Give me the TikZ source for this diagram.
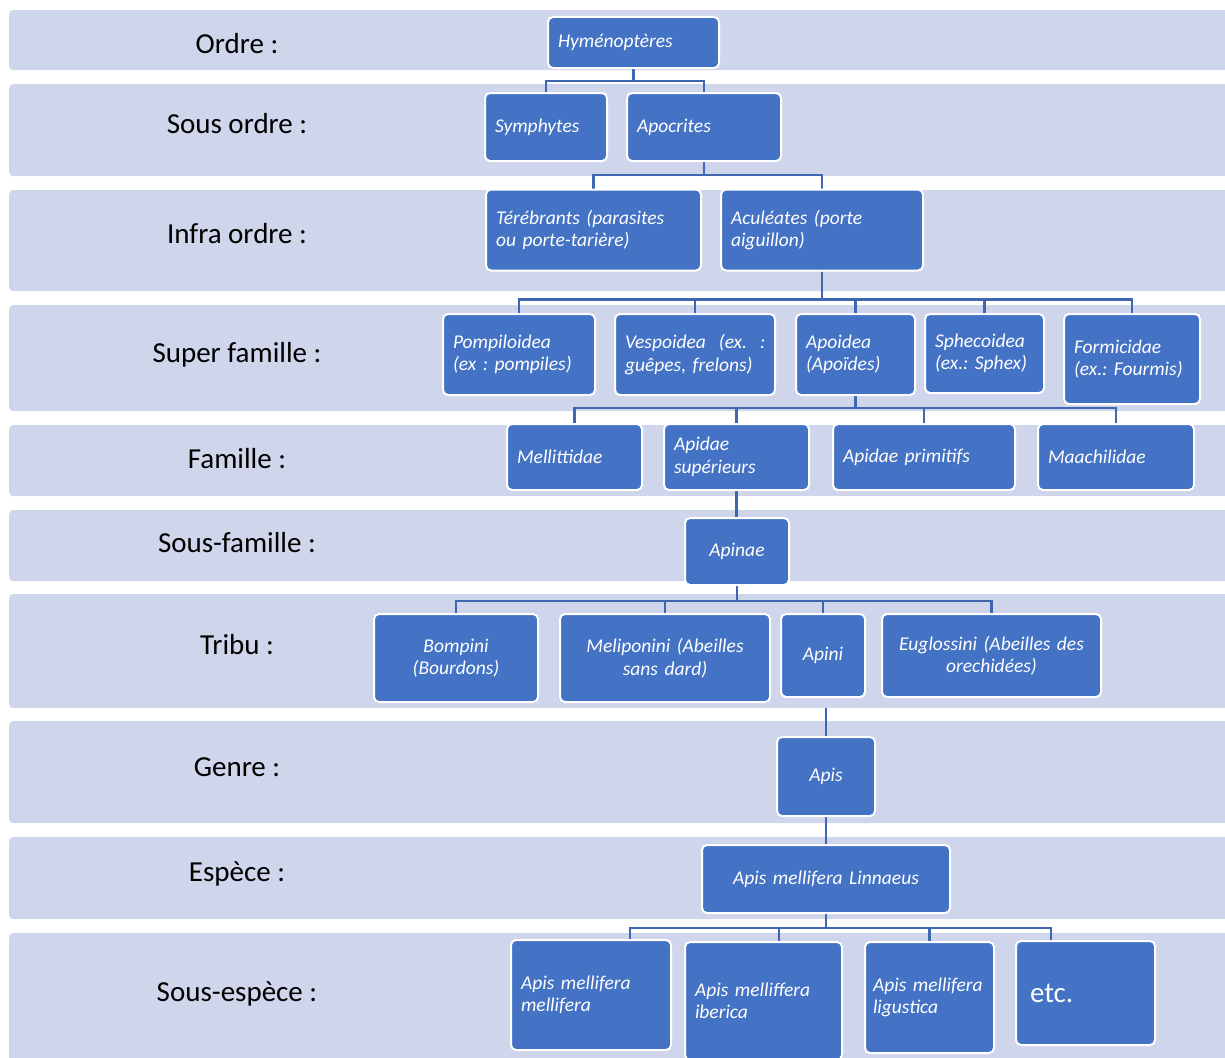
\documentclass[tikz,border=0pt]{standalone}
\usepackage{fontspec}
\setmainfont{Carlito}
\usetikzlibrary{positioning,backgrounds}

\definecolor{bandfill}{HTML}{CFD5EA}
\definecolor{boxfill}{HTML}{4472C4}
\definecolor{linkblue}{HTML}{3F66B0}

\pgfdeclarelayer{bands}
\pgfdeclarelayer{links}
\pgfsetlayers{bands,links,main}

\frenchspacing
\hyphenpenalty=10000

\begin{document}
\begin{tikzpicture}[x=1pt,y=-1pt,
	band/.style={fill=bandfill,rounded corners=4pt,inner sep=0,anchor=north west,minimum width=1240pt},
	rang/.style={anchor=base,font=\fontsize{29}{34}\selectfont},
	taxon/.style={draw=white,line width=2pt,fill=boxfill,rounded corners=5pt,text=white,
		inner xsep=10pt,inner ysep=2pt,align=left,font=\fontsize{19.5}{22.5}\selectfont\itshape},
	taxonc/.style={taxon,align=center},
	link/.style={draw=linkblue,line width=2.8pt}]

\useasboundingbox (0,0) rectangle (1225,1057);
\clip (0,0) rectangle (1225,1057);

%-------------------------------------------------------------------------------
% Bands and rank labels
%-------------------------------------------------------------------------------
\begin{pgfonlayer}{bands}
\node[band,minimum height=60pt]  (bordre)      at (9,10)  {};
\node[band,minimum height=92pt]  (bsousordre)  at (9,84)  {};
\node[band,minimum height=101pt] (binfra)      at (9,190) {};
\node[band,minimum height=106pt] (bsuper)      at (9,305) {};
\node[band,minimum height=71pt]  (bfamille)    at (9,425) {};
\node[band,minimum height=71pt]  (bsousfam)    at (9,510) {};
\node[band,minimum height=114pt] (btribu)      at (9,594) {};
\node[band,minimum height=102pt] (bgenre)      at (9,721) {};
\node[band,minimum height=82pt]  (bespece)     at (9,837) {};
\node[band,minimum height=140pt] (bsousesp)    at (9,933) {};
\end{pgfonlayer}

\node[rang] (ordre)     at (237,53)   {Ordre :};
\node[rang] (sousordre) at (237,133)  {Sous ordre :};
\node[rang] (infra)     at (237,243)  {Infra ordre :};
\node[rang] (super)     at (237,362)  {Super famille :};
\node[rang] (famille)   at (237,468)  {Famille :};
\node[rang] (sousfam)   at (237,552)  {Sous-famille :};
\node[rang] (tribu)     at (237,654)  {Tribu :};
\node[rang] (genre)     at (237,776)  {Genre :};
\node[rang] (espece)    at (237,881)  {Espèce :};
\node[rang] (sousesp)   at (237,1001) {Sous-espèce :};

%-------------------------------------------------------------------------------
% Ordre, sous ordre, infra ordre
%-------------------------------------------------------------------------------
\node[taxon,text width=151pt,minimum height=51pt] (hymeno) at (633.5,42.5) {Hyménoptères\vphantom{p}};

\node[taxon,text width=102pt,minimum height=68pt] (symphytes) at (546,127) {Symphytes};
\node[taxon,text width=134pt,minimum height=68pt] (apocrites) at (704,127) {Apocrites};

\node[taxon,text width=195pt,minimum height=81pt] (terebrants) at (593.5,230) {Térébrants (parasites\\ou porte-tarière)};
\node[taxon,text width=182pt,minimum height=81pt] (aculeates)  at (822,230)   {Aculéates (porte\\aiguillon)};

%-------------------------------------------------------------------------------
% Super famille, famille
%-------------------------------------------------------------------------------
\node[taxon,text width=132pt,minimum height=81pt] (pompilo)    at (519,354.5)   {Pompiloidea\\(ex : pompiles)};
\node[taxon,text width=140pt,minimum height=81pt] (vespo)      at (695,354.5)   {Vespoidea~~(ex.~~:\\guêpes, frelons)};
\node[taxon,text width=99pt,minimum height=81pt]  (apoidea)    at (855.5,354.5) {Apoidea\\(Apoïdes)};
\node[taxon,text width=99pt,minimum height=79pt]  (sphecoidea) at (984.5,353.5) {Sphecoidea\\(ex.: Sphex)};
\node[taxon,text width=116pt,minimum height=90pt] (formicidae) at (1132,359)    {Formicidae\\(ex.: Fourmis)};

\node[taxon,text width=115pt,minimum height=66pt] (mellittidae) at (574.5,457) {Mellittidae};
\node[taxon,text width=125pt,minimum height=66pt] (apidsup)     at (736.5,457) {Apidae\\supérieurs};
\node[taxon,text width=162pt,minimum height=66pt] (apidprim)    at (924,457)   {Apidae primitifs};
\node[taxon,text width=136pt,minimum height=66pt] (maachilidae) at (1116,457)  {Maachilidae};

%-------------------------------------------------------------------------------
% Sous-famille, tribu, genre, espece
%-------------------------------------------------------------------------------
\node[taxonc,text width=84pt,minimum height=67pt] (apinae) at (737,551.5) {Apinae};

\node[taxonc,text width=144pt,minimum height=88pt] (bompini)    at (456,658)     {Bompini\\(Bourdons)};
\node[taxonc,text width=190pt,minimum height=88pt] (meliponini) at (665,658)     {Meliponini (Abeilles\\sans dard)};
\node[taxonc,text width=64pt,minimum height=83pt]  (apini)      at (823,655.5)   {Apini};
\node[taxonc,text width=199pt,minimum height=83pt] (euglossini) at (991.5,655.5) {Euglossini (Abeilles des\\orechidées)};

\node[taxonc,text width=78pt,minimum height=79pt]  (apis)     at (826,776.5) {Apis};
\node[taxonc,text width=228pt,minimum height=68pt] (linnaeus) at (826,879)   {Apis mellifera Linnaeus};

%-------------------------------------------------------------------------------
% Sous-espece
%-------------------------------------------------------------------------------
\node[taxon,text width=140pt,minimum height=110pt] (mellifera) at (591,995)    {Apis~mellifera\\mellifera};
\node[taxon,text width=137pt,minimum height=118pt] (iberica)   at (763.5,1001) {Apis~melliffera\\iberica};
\node[taxon,text width=113pt,minimum height=111pt,inner xsep=8pt] (ligustica) at (929.5,997.5) {Apis~mellifera\\ligustica};
\node[taxon,text width=111pt,minimum height=104pt,inner xsep=14pt,
	font=\fontsize{29}{34}\selectfont] (etc) at (1085.5,993) {etc.};

%-------------------------------------------------------------------------------
% Links
%-------------------------------------------------------------------------------
\begin{pgfonlayer}{links}
\draw[link] (hymeno.south) -- ++(0,12) -| (symphytes.north);
\draw[link] (hymeno.south) -- ++(0,12) -| (apocrites.north);

\draw[link] (apocrites.south) -- ++(0,13) -| (terebrants.north);
\draw[link] (apocrites.south) -- ++(0,13) -| (aculeates.north);

\foreach \s in {pompilo,vespo,apoidea,sphecoidea,formicidae}
	\draw[link] (aculeates.south) -- ++(0,28) -| (\s.north);

\foreach \s in {mellittidae,apidsup,apidprim,maachilidae}
	\draw[link] (apoidea.south) -- ++(0,12) -| (\s.north);

\draw[link] (apidsup.south) -- (apidsup.south |- apinae.north);

\foreach \s in {bompini,meliponini,apini,euglossini}
	\draw[link] (apinae.south) -- ++(0,15) -| (\s.north);

\draw[link] (btribu.south -| apis.north) -- (apis.north);
\draw[link] (apis.south) -- (linnaeus.north);

\draw[link] (linnaeus.south) -- ++(0,14) -| ([xshift=39pt]mellifera.north);
\draw[link] (linnaeus.south) -- ++(0,14) -| ([xshift=15.5pt]iberica.north);
\draw[link] (linnaeus.south) -- ++(0,14) -| (ligustica.north);
\draw[link] (linnaeus.south) -- ++(0,14) -| ([xshift=-34.5pt]etc.north);
\end{pgfonlayer}
\end{tikzpicture}
\end{document}
